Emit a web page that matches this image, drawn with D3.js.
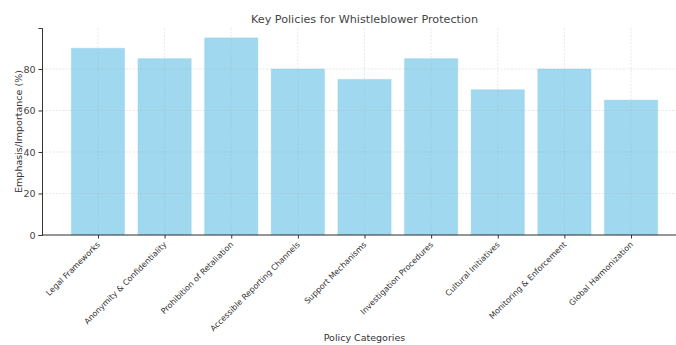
<!DOCTYPE html>
<html><head><meta charset="utf-8">
<script src="https://cdn.jsdelivr.net/npm/d3@7"></script>
<style>body{margin:0;background:#fff}svg{display:block;font-family:"DejaVu Sans",sans-serif}</style>
</head><body><svg id="c" width="676" height="345"></svg>
<script>
const categories = ["Legal Frameworks","Anonymity & Confidentiality","Prohibition of Retaliation","Accessible Reporting Channels","Support Mechanisms","Investigation Procedures","Cultural Initiatives","Monitoring & Enforcement","Global Harmonization"];
const values = [90,85,95,80,75,85,70,80,65];
const yTicks = [0,20,40,60,80];
const title = "Key Policies for Whistleblower Protection";
const xLabel = "Policy Categories";
const yLabel = "Emphasis/Importance (%)";

const svg = d3.select("#c");
const m = {l:42, r:687, t:28, b:235};
const n = categories.length;
const x = d3.scaleLinear().domain([-0.84, n - 1 + 0.84]).range([m.l, m.r]);
const y = d3.scaleLinear().domain([0, 99.75]).range([m.b, m.t]);
const bw = x(0.8) - x(0);

svg.append("g").selectAll("rect").data(values).join("rect")
  .attr("x", (d,i) => x(i) - bw/2).attr("width", bw)
  .attr("y", d => y(d)).attr("height", d => y(0) - y(d))
  .attr("fill", "#87ceeb").attr("fill-opacity", 0.8)
  .attr("stroke", "#87ceeb").attr("stroke-opacity", 0.3).attr("stroke-width", 1);

const grid = svg.append("g").attr("stroke", "#b0b0b0").attr("stroke-opacity", 0.35)
  .attr("stroke-dasharray", "2,1.5").attr("stroke-width", 0.8);
grid.selectAll(".gx").data(categories).join("line")
  .attr("x1", (d,i) => x(i)).attr("x2", (d,i) => x(i)).attr("y1", m.t).attr("y2", m.b);
grid.selectAll(".gy").data(yTicks).join("line")
  .attr("x1", m.l).attr("x2", m.r).attr("y1", d => y(d)).attr("y2", d => y(d));

const yAxis = svg.append("g").attr("transform", `translate(${m.l},0)`)
  .call(d3.axisLeft(y).tickValues(yTicks).tickSize(3.5).tickPadding(3));
yAxis.select(".domain").attr("stroke", "#333").attr("stroke-width", 1);
yAxis.selectAll(".tick line").attr("stroke", "#333");
yAxis.selectAll(".tick text").attr("fill", "#444").style("font-size", "9.5px").style("font-family", "DejaVu Sans");

const xAxis = svg.append("g").attr("transform", `translate(0,${m.b})`)
  .call(d3.axisBottom(x).tickValues(d3.range(n)).tickSize(3.5).tickFormat(i => categories[i]));
xAxis.select(".domain").attr("stroke", "#333").attr("stroke-width", 1).attr("d", `M${m.l},0H${m.r}`);
xAxis.selectAll(".tick line").attr("stroke", "#333");
xAxis.selectAll(".tick text")
  .attr("fill", "#333").style("font-size", "8px").style("font-family", "DejaVu Sans")
  .attr("text-anchor", "end").attr("y", 0).attr("dy", "0")
  .attr("transform", "translate(2,10) rotate(-45)");

svg.append("text").attr("x", (m.l + m.r)/2).attr("y", 23).attr("text-anchor", "middle")
  .attr("fill", "#444").style("font-size", "11.2px").text(title);
svg.append("text").attr("x", (m.l + m.r)/2).attr("y", 341).attr("text-anchor", "middle")
  .attr("fill", "#333").style("font-size", "9.5px").text(xLabel);
svg.append("text").attr("transform", `translate(22,${(m.t + m.b)/2}) rotate(-90)`).attr("text-anchor", "middle")
  .attr("fill", "#333").style("font-size", "9.5px").text(yLabel);
</script></body></html>
